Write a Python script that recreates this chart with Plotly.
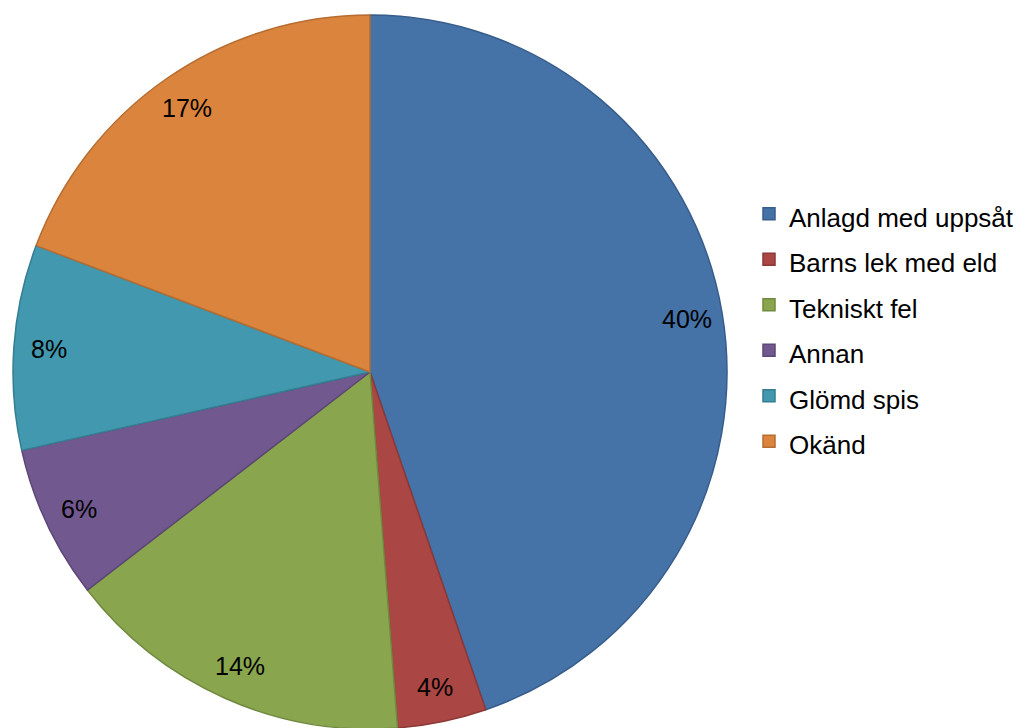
import math
import plotly.graph_objects as go

# Data
categories = ["Anlagd med uppsåt", "Barns lek med eld", "Tekniskt fel", "Annan", "Glömd spis", "Okänd"]
values = [40.0, 3.6, 14.1, 6.2, 8.3, 17.2]
fill_colors = ["#4572A7", "#AA4643", "#89A54E", "#71588F", "#4198AF", "#DB843D"]
line_colors = ["#385D8A", "#8C3836", "#71893F", "#5C4776", "#357D91", "#B66D31"]

W, H = 1023, 728
OFF = 8                        # page body margin offset
cx, radius = 370 - OFF, 357    # pie centre x and radius in px (figure coords)
top = 15 - OFF                 # px from figure top to pie top
cy = top + radius

dom_x = [(cx - radius) / W, (cx + radius) / W]
dom_y = [max(0.0, 1 - (top + 2 * radius) / H), 1 - top / H]

legend_labels = [f'<span style="font-size:26px">{c}</span>' for c in categories]

fig = go.Figure()
fig.add_trace(go.Pie(
    labels=legend_labels,
    values=values,
    customdata=categories,
    sort=False,
    direction="clockwise",
    rotation=0,
    marker=dict(colors=fill_colors, line=dict(color=line_colors, width=1.5)),
    textinfo="none",
    hovertemplate="%{customdata}: %{value}<extra></extra>",
    domain=dict(x=dom_x, y=dom_y),
))

# Data labels placed near the outer end of each slice (Excel "inside end" look)
total = sum(values)
cum = 0.0
annotations = []
for v in values:
    mid = (cum + v / 2) / total * 2 * math.pi
    cum += v
    r = 0.9 * radius
    px = cx + r * math.sin(mid)
    py = cy - r * math.cos(mid)
    annotations.append(dict(
        x=px / W, y=1 - py / H, xref="paper", yref="paper",
        text=f"{v:.0f}%", showarrow=False,
        font=dict(family="Arial, Liberation Sans, sans-serif", size=25, color="#000000"),
        xanchor="center", yanchor="middle",
    ))

fig.update_layout(
    width=W, height=H,
    margin=dict(l=0, r=0, t=0, b=0),
    paper_bgcolor="white",
    plot_bgcolor="white",
    showlegend=True,
    legend=dict(
        x=(789 - OFF - 40) / W, xanchor="left",
        y=1 - (328 - OFF) / H, yanchor="middle",
        font=dict(family="Arial, Liberation Sans, sans-serif", size=32.7, color="#000000"),
        bgcolor="rgba(0,0,0,0)",
    ),
    annotations=annotations,
)

fig.write_html("out.html")
